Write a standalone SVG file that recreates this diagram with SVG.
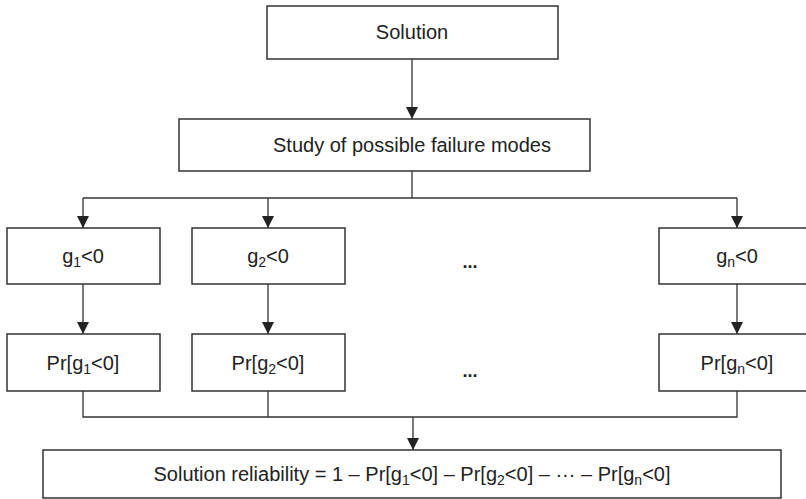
<svg xmlns="http://www.w3.org/2000/svg" width="806" height="499" viewBox="0 0 806 499">
  <style>
    .box { fill: #ffffff; stroke: #333333; stroke-width: 1.5; }
    .lbl { font-family: "Liberation Sans", "Open Sans", sans-serif; font-size: 20px; fill: #222222; text-anchor: middle; }
    .sub { font-size: 14px; }
    .dots { font-weight: bold; font-size: 18px; }
    .wire { fill: none; stroke: #333333; stroke-width: 1.3; }
  </style>
  <defs>
    <marker id="arrow" viewBox="0 0 12 12" refX="12" refY="6" markerWidth="12" markerHeight="12" markerUnits="userSpaceOnUse" orient="auto">
      <path d="M0,0 L12,6 L0,12 Z" fill="#222222"/>
    </marker>
  </defs>

  <!-- connectors -->
  <g id="connectors">
    <line class="wire" x1="412" y1="59" x2="412" y2="119" marker-end="url(#arrow)"/>
    <line class="wire" x1="412" y1="171" x2="412" y2="198"/>
    <polyline class="wire" points="83,198 737,198"/>
    <line class="wire" x1="83" y1="198" x2="83" y2="228" marker-end="url(#arrow)"/>
    <line class="wire" x1="268" y1="198" x2="268" y2="228" marker-end="url(#arrow)"/>
    <line class="wire" x1="737" y1="198" x2="737" y2="228" marker-end="url(#arrow)"/>
    <line class="wire" x1="83" y1="284" x2="83" y2="334" marker-end="url(#arrow)"/>
    <line class="wire" x1="268" y1="284" x2="268" y2="334" marker-end="url(#arrow)"/>
    <line class="wire" x1="737" y1="284" x2="737" y2="334" marker-end="url(#arrow)"/>
    <polyline class="wire" points="83,391 83,417 737,417 737,391"/>
    <line class="wire" x1="268" y1="391" x2="268" y2="417"/>
    <line class="wire" x1="413" y1="417" x2="413" y2="450" marker-end="url(#arrow)"/>
  </g>

  <g id="solution">
    <rect class="box" x="267" y="6" width="291" height="53"/>
    <text class="lbl" x="412" y="39">Solution</text>
  </g>

  <g id="study">
    <rect class="box" x="179" y="119" width="411" height="52"/>
    <text class="lbl" x="412" y="152">Study of possible failure modes</text>
  </g>

  <g id="g1">
    <rect class="box" x="7" y="228" width="153" height="56"/>
    <text class="lbl" x="83" y="263">g<tspan class="sub" dy="4">1</tspan><tspan dy="-4">&lt;0</tspan></text>
  </g>

  <g id="g2">
    <rect class="box" x="192" y="228" width="153" height="56"/>
    <text class="lbl" x="268" y="263">g<tspan class="sub" dy="4">2</tspan><tspan dy="-4">&lt;0</tspan></text>
  </g>

  <g id="gdots">
    <text class="lbl dots" x="470" y="268">...</text>
  </g>

  <g id="gn">
    <rect class="box" x="659" y="228" width="153" height="56"/>
    <text class="lbl" x="737" y="263">g<tspan class="sub" dy="4">n</tspan><tspan dy="-4">&lt;0</tspan></text>
  </g>

  <g id="pr1">
    <rect class="box" x="7" y="334" width="153" height="57"/>
    <text class="lbl" x="83" y="370">Pr[g<tspan class="sub" dy="4">1</tspan><tspan dy="-4">&lt;0]</tspan></text>
  </g>

  <g id="pr2">
    <rect class="box" x="192" y="334" width="153" height="57"/>
    <text class="lbl" x="268" y="370">Pr[g<tspan class="sub" dy="4">2</tspan><tspan dy="-4">&lt;0]</tspan></text>
  </g>

  <g id="prdots">
    <text class="lbl dots" x="470" y="377">...</text>
  </g>

  <g id="prn">
    <rect class="box" x="659" y="334" width="153" height="57"/>
    <text class="lbl" x="737" y="370">Pr[g<tspan class="sub" dy="4">n</tspan><tspan dy="-4">&lt;0]</tspan></text>
  </g>

  <g id="reliability">
    <rect class="box" x="43" y="450" width="738" height="48"/>
    <text class="lbl" x="412" y="481">Solution reliability = 1 – Pr[g<tspan class="sub" dy="4">1</tspan><tspan dy="-4">&lt;0] – Pr[g</tspan><tspan class="sub" dy="4">2</tspan><tspan dy="-4">&lt;0] – ··· – Pr[g</tspan><tspan class="sub" dy="4">n</tspan><tspan dy="-4">&lt;0]</tspan></text>
  </g>
</svg>
